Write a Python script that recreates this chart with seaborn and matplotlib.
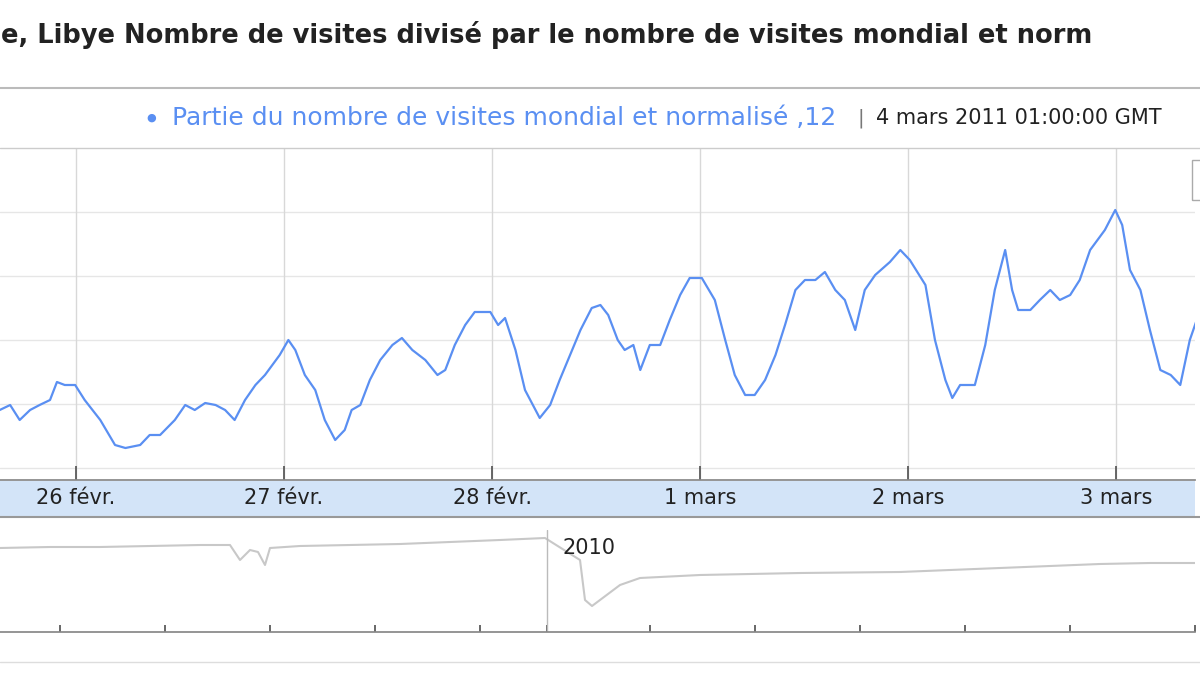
import matplotlib
matplotlib.use("Agg")
import matplotlib.pyplot as plt
import seaborn as sns
import pandas as pd

sns.set_theme(style="white")
plt.rcParams['font.family'] = ['DejaVu Sans']

hours = [-8.8,-7.6,-6.5,-5.3,-4.2,-3.0,-2.2,-1.3,-0.1,1.0,2.8,4.5,5.7,7.4,8.5,9.7,11.4,12.6,13.7,14.9,16.1,17.2,18.3,19.5,20.7,21.8,23.5,24.5,25.3,26.4,27.6,28.7,29.9,31.0,31.8,32.8,33.9,35.1,36.5,37.6,38.8,40.3,41.7,42.6,43.7,44.9,46.0,47.8,48.7,49.5,50.7,51.8,53.5,54.7,55.8,57.0,58.2,59.5,60.5,61.4,62.5,63.3,64.3,65.1,66.2,67.4,68.5,69.7,70.8,72.2,73.7,74.9,76.0,77.2,78.3,79.5,80.7,81.8,83.0,84.1,85.3,86.4,87.6,88.7,89.9,91.0,92.2,93.9,95.1,96.2,98.0,99.1,100.3,101.1,102.0,103.7,104.9,106.0,107.2,108.0,108.7,110.1,111.2,112.4,113.5,114.7,115.8,117.0,118.7,119.9,120.7,121.6,122.8,123.9,125.1,126.3,127.4,128.5,129.7]
values = [70,75,60,70,75,80,98,95,95,80,60,35,32,35,45,45,60,75,70,77,75,70,60,80,95,105,125,140,130,105,90,60,40,50,70,75,100,120,135,142,130,120,105,110,135,155,168,168,155,162,130,90,62,75,100,125,150,172,175,165,140,130,135,110,135,135,160,185,202,202,180,140,105,85,85,100,125,155,190,200,200,208,190,180,150,190,205,218,230,220,195,140,100,82,95,95,135,190,230,190,170,170,180,190,180,185,200,230,250,270,255,210,190,150,110,105,95,140,170]

ov_pos = [0,50,100,150,200,230,240,250,258,265,270,300,350,400,450,500,545,580,585,592,600,620,640,700,800,900,1000,1100,1150,1195]
ov_val = [84,85,85,86,87,87,72,82,80,67,84,86,87,88,90,92,94,72,32,26,32,47,54,57,59,60,64,68,69,69]

day_labels = ["26 févr.", "27 févr.", "28 févr.", "1 mars", "2 mars", "3 mars"]
title = "e, Libye Nombre de visites divisé par le nombre de visites mondial et norm"
legend_label = "Partie du nombre de visites mondial et normalisé ,12"
legend_date = "4 mars 2011 01:00:00 GMT"

W, H = 1200, 675
fig = plt.figure(figsize=(12, 6.75), dpi=100)
def box(x0, y0, x1, y1):
    return [x0/W, 1-y1/H, (x1-x0)/W, (y1-y0)/H]

blue = '#5a8ff2'
fig.text(1/W, 1-35/H, title, fontsize=18.5, fontweight='bold', va='center', ha='left', color='#222222')
fig.add_artist(plt.Line2D([0, 1], [1-88/H, 1-88/H], color='#bbbbbb', lw=1.5))
fig.add_artist(plt.Line2D([0, 1], [1-148/H, 1-148/H], color='#cccccc', lw=1))
fig.text(146/W, 1-118/H, "●", color=blue, fontsize=8, va='center')
fig.text(172/W, 1-118/H, legend_label, color=blue, fontsize=18, va='center')
fig.text(858/W, 1-118/H, "|", color='#777777', fontsize=14, va='center')
fig.text(876/W, 1-118/H, legend_date, color='#222222', fontsize=15, va='center')

ax = fig.add_axes(box(0, 148, 1195, 480))
df = pd.DataFrame({"h": hours, "v": values})
sns.lineplot(data=df, x="h", y="v", ax=ax, color=blue, lw=1.6)
ax.set_xlim(-8.77, 129.1)
ax.set_ylim(0, 332)
for gy in [12, 76, 140, 204, 268]:
    ax.axhline(gy, color='#e6e6e6', lw=1, zorder=0)
for d in range(6):
    ax.axvline(d*24, color='#d8d8d8', lw=1, zorder=0)
ax.set_xticks([d*24 for d in range(6)])
ax.set_xticklabels([])
ax.tick_params(axis='x', length=10, color='#555555', direction='in', bottom=True)
ax.set_yticks([])
ax.set_xlabel(""); ax.set_ylabel("")
for s in ax.spines.values():
    s.set_visible(False)
ax.spines['bottom'].set_visible(True); ax.spines['bottom'].set_color('#888888')
fig.add_artist(plt.Rectangle((1192/W, 1-200/H), 20/W, 40/H, fill=False, edgecolor='#aaaaaa', lw=1))

axb = fig.add_axes(box(0, 481, 1195, 516))
axb.set_facecolor('#d3e4f8')
axb.set_xlim(-8.77, 129.1); axb.set_ylim(0, 1)
for d, lab in enumerate(day_labels):
    axb.text(d*24, 0.5, lab, ha='center', va='center', fontsize=15, color='#222222')
axb.set_xticks([]); axb.set_yticks([])
for s in axb.spines.values():
    s.set_visible(False)
fig.add_artist(plt.Line2D([0, 1], [1-517/H, 1-517/H], color='#999999', lw=1.5))

axo = fig.add_axes(box(0, 530, 1195, 632))
sns.lineplot(x=ov_pos, y=ov_val, ax=axo, color='#c8c8c8', lw=1.5)
axo.set_xlim(0, 1195); axo.set_ylim(0, 102)
axo.axvline(547, color='#bbbbbb', lw=1)
axo.text(563, 84, "2010", fontsize=15, color='#222222', va='center')
axo.set_xticks([60, 165, 270, 375, 480, 547, 650, 755, 860, 965, 1070, 1195])
axo.set_xticklabels([])
axo.tick_params(axis='x', length=5, color='#555555', direction='in', bottom=True)
axo.set_yticks([])
for s in axo.spines.values():
    s.set_visible(False)
axo.spines['bottom'].set_visible(True); axo.spines['bottom'].set_color('#888888')
fig.add_artist(plt.Line2D([0, 1], [1-662/H, 1-662/H], color='#dddddd', lw=1))

fig.savefig("out.png", dpi=100)
